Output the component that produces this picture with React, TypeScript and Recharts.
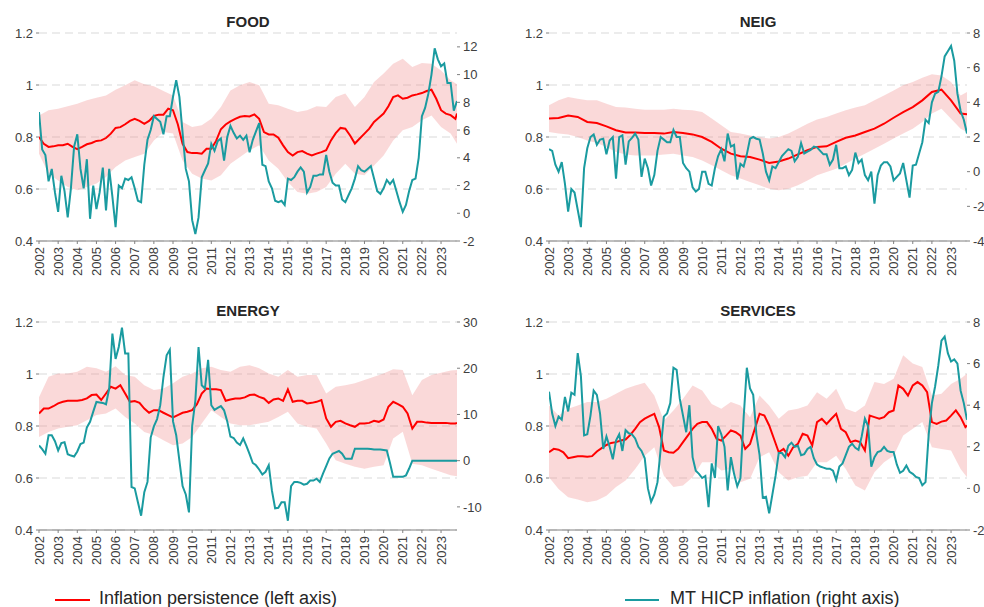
import React from "react";
import { ComposedChart, Line, Area, XAxis, YAxis, CartesianGrid } from "recharts";

const START = 2002;
const END = 2023 + 10 / 12;
const QUARTER = 0.25;
const HALF = 0.5;
const BIMONTH = 1 / 6;

const yearTicks = [
  2002, 2003, 2004, 2005, 2006, 2007, 2008, 2009, 2010, 2011, 2012,
  2013, 2014, 2015, 2016, 2017, 2018, 2019, 2020, 2021, 2022, 2023,
];
const leftTicks = [0.4, 0.6, 0.8, 1, 1.2];

// FOOD
const foodPersistence = [
  0.8, 0.774, 0.762, 0.764, 0.768, 0.768, 0.774, 0.762, 0.753, 0.762, 0.772, 0.777,
  0.785, 0.787, 0.796, 0.813, 0.835, 0.838, 0.849, 0.862, 0.87, 0.862, 0.851, 0.862,
  0.881, 0.886, 0.886, 0.909, 0.903, 0.849, 0.774, 0.742, 0.738, 0.738, 0.736, 0.755,
  0.755, 0.785, 0.83, 0.848, 0.86, 0.87, 0.878, 0.881, 0.879, 0.887, 0.87, 0.819,
  0.81, 0.81, 0.797, 0.768, 0.742, 0.729, 0.742, 0.746, 0.736, 0.729, 0.736, 0.742,
  0.749, 0.787, 0.815, 0.835, 0.832, 0.806, 0.775, 0.794, 0.813, 0.832, 0.858, 0.874,
  0.89, 0.918, 0.954, 0.96, 0.947, 0.951, 0.96, 0.964, 0.969, 0.977, 0.982, 0.947,
  0.903, 0.89, 0.884, 0.87, 0.89,
];
const foodBandLow = [
  0.736, 0.659, 0.633, 0.608, 0.595, 0.608, 0.621, 0.646, 0.685, 0.71, 0.723, 0.736,
  0.787, 0.819, 0.813, 0.71, 0.659, 0.64, 0.633, 0.653, 0.697, 0.723, 0.749, 0.768,
  0.71, 0.678, 0.627, 0.588, 0.582, 0.588, 0.608, 0.659, 0.697, 0.659, 0.653, 0.69,
  0.729, 0.787, 0.826, 0.838, 0.864, 0.883, 0.838, 0.813, 0.774,
];
const foodBandHigh = [
  0.883, 0.903, 0.909, 0.918, 0.928, 0.941, 0.951, 0.96, 0.982, 0.999, 1.018, 1.003,
  0.995, 0.977, 0.96, 0.858, 0.838, 0.845, 0.87, 0.915, 0.979, 0.999, 1.012, 0.999,
  0.928, 0.922, 0.909, 0.896, 0.903, 0.918, 0.915, 0.954, 0.967, 0.915, 0.954, 1.012,
  1.044, 1.082, 1.101, 1.069, 1.085, 1.082, 1.056, 1.018, 1.003,
];
const foodHicp = [
  7.3, 4.6, 4.2, 2.3, 3.2, 1.5, 0.1, 2.7, 1.6, -0.3, 1.8, 4.8,
  5.7, 3.2, 1.8, 3.9, -0.4, 2.0, 0.3, 1.5, 3.3, 0.2, 3.2, 1.2,
  -1.0, 2.0, 1.8, 2.5, 2.4, 2.6, 1.8, 0.9, 0.8, 3.5, 5.3, 6.0,
  7.0, 6.8, 6.6, 5.7, 7.0, 7.0, 8.4, 9.6, 8.4, 5.8, 3.2, 2.3,
  -0.5, -1.5, -0.3, 2.6, 3.1, 3.6, 5.0, 4.5, 5.2, 5.4, 3.8, 5.5,
  6.3, 5.8, 5.4, 5.6, 5.3, 5.6, 4.4, 5.3, 5.9, 6.5, 3.5, 3.4,
  2.3, 1.8, 0.9, 0.8, 0.9, 0.6, 2.5, 2.4, 2.6, 3.0, 3.3, 3.0,
  1.5, 1.9, 2.7, 2.7, 2.8, 2.8, 4.2, 3.0, 2.2, 2.0, 2.0, 1.0,
  0.8, 1.3, 1.8, 2.5, 3.4, 3.1, 3.0, 3.2, 3.4, 2.5, 1.6, 1.4,
  1.8, 2.4, 2.1, 2.4, 1.6, 0.8, 0.1, 0.6, 1.6, 2.4, 2.5, 4.0,
  7.0, 7.6, 8.6, 10.0, 11.9, 11.1, 10.6, 10.8, 9.4, 9.4, 7.4, 8.1,
];
const foodRightTicks = [-2, 0, 2, 4, 6, 8, 10, 12];

// NEIG
const neigPersistence = [
  0.871, 0.873, 0.883, 0.877, 0.858, 0.854, 0.841, 0.826, 0.817, 0.817, 0.815, 0.815,
  0.813, 0.819, 0.815, 0.81, 0.8, 0.781, 0.755, 0.736, 0.726, 0.723, 0.713, 0.7,
  0.706, 0.717, 0.733, 0.749, 0.762, 0.764, 0.781, 0.797, 0.806, 0.819, 0.832, 0.851,
  0.874, 0.896, 0.915, 0.941, 0.973, 0.982, 0.941, 0.89, 0.887,
];
const neigBandLow = [
  0.819, 0.813, 0.81, 0.8, 0.787, 0.777, 0.762, 0.742, 0.733, 0.729, 0.729, 0.729,
  0.733, 0.736, 0.729, 0.723, 0.71, 0.691, 0.672, 0.653, 0.64, 0.627, 0.614, 0.601,
  0.595, 0.601, 0.614, 0.633, 0.653, 0.665, 0.678, 0.697, 0.717, 0.736, 0.755, 0.774,
  0.794, 0.813, 0.832, 0.858, 0.89, 0.909, 0.87, 0.832, 0.819,
];
const neigBandHigh = [
  0.922, 0.941, 0.954, 0.947, 0.941, 0.941, 0.928, 0.915, 0.913, 0.909, 0.905, 0.905,
  0.905, 0.909, 0.905, 0.903, 0.896, 0.871, 0.845, 0.819, 0.813, 0.806, 0.8, 0.794,
  0.8, 0.813, 0.832, 0.851, 0.867, 0.877, 0.89, 0.903, 0.913, 0.922, 0.941, 0.96,
  0.979, 0.999, 1.012, 1.028, 1.041, 1.037, 1.012, 0.96, 0.973,
];
const neigHicp = [
  1.3, 1.2, 0.4, 0.0, 0.55, -0.7, -2.3, -1.0, -1.2, -2.2, -3.2, 0.2,
  1.35, 2.0, 2.15, 1.55, 1.85, 1.9, 1.0, 1.8, 2.0, -0.4, 2.0, 2.1,
  0.4, 1.75, 1.95, 2.2, 1.85, -0.3, 0.75, 0.2, -0.8, -0.2, 1.2, 2.0,
  1.85, 1.7, 1.7, 2.4, 2.0, 2.0, 0.5, 0.2, 0.0, -0.9, -1.15, -1.0,
  0.0, 0.0, -0.7, -0.8, 0.2, 0.9, 1.3, 0.6, 2.2, 1.45, 1.55, -0.45,
  0.45, 0.3, 1.0, 1.9, 2.0, 1.9, 1.85, 1.05, 0.0, -0.5, 0.3, 0.2,
  0.55, 0.9, 1.1, 1.3, 1.2, 0.6, 0.85, 1.65, 1.05, 1.15, 1.25, 1.45,
  1.4, 1.2, 1.0, 1.0, 0.4, 0.7, 1.55, 0.2, 0.2, 0.3, -0.2, 0.1,
  1.1, 0.5, 0.7, -0.2, -0.5, 0.0, -1.85, -0.2, 0.35, 0.55, 0.55, 0.3,
  -0.5, -0.3, -0.1, 0.5, -0.5, -1.5, 0.35, 0.4, 1.05, 1.7, 3.0, 2.8,
  4.0, 4.5, 4.6, 5.5, 6.65, 6.95, 7.25, 6.4, 4.5, 3.5, 3.0, 2.2,
];
const neigRightTicks = [-4, -2, 0, 2, 4, 6, 8];

// ENERGY
const energyPersistence = [
  0.848, 0.867, 0.867, 0.876, 0.887, 0.893, 0.897, 0.897, 0.897, 0.9, 0.906, 0.919,
  0.921, 0.9, 0.925, 0.951, 0.944, 0.957, 0.925, 0.893, 0.896, 0.889, 0.867, 0.851,
  0.861, 0.861, 0.851, 0.842, 0.833, 0.842, 0.851, 0.855, 0.861, 0.884, 0.925, 0.944,
  0.941, 0.941, 0.938, 0.897, 0.902, 0.906, 0.906, 0.91, 0.919, 0.921, 0.912, 0.906,
  0.889, 0.902, 0.906, 0.897, 0.941, 0.893, 0.897, 0.897, 0.887, 0.889, 0.893, 0.9,
  0.829, 0.797, 0.816, 0.82, 0.81, 0.803, 0.797, 0.81, 0.81, 0.812, 0.82, 0.816,
  0.825, 0.874, 0.893, 0.884, 0.874, 0.848, 0.79, 0.816, 0.816, 0.813, 0.812, 0.812,
  0.812, 0.812, 0.81, 0.81, 0.812,
];
const energyBandLow = [
  0.758, 0.777, 0.79, 0.797, 0.803, 0.822, 0.842, 0.848, 0.867, 0.835, 0.81, 0.777,
  0.765, 0.745, 0.726, 0.733, 0.758, 0.81, 0.861, 0.835, 0.81, 0.803, 0.803, 0.81,
  0.816, 0.835, 0.855, 0.81, 0.797, 0.79, 0.733, 0.668, 0.655, 0.643, 0.636, 0.643,
  0.649, 0.752, 0.778, 0.655, 0.649, 0.636, 0.623, 0.611, 0.607,
];
const energyBandHigh = [
  0.911, 0.989, 1.002, 1.002, 1.009, 1.028, 1.022, 1.009, 1.03, 0.996, 0.989, 0.957,
  0.938, 0.944, 0.964, 0.989, 1.002, 1.022, 1.028, 1.015, 1.009, 1.028, 1.034, 1.022,
  1.002, 0.989, 1.015, 0.989, 0.996, 0.996, 0.925, 0.951, 0.957, 0.964, 0.977, 0.989,
  1.002, 1.018, 1.015, 0.918, 0.977, 0.996, 1.005, 1.013, 1.015,
];
const energyHicp = [
  3.3, 2.5, 1.5, 5.5, 5.5, 4.2, 2.2, 3.8, 4.0, 1.4, 1.1, 0.9,
  2.0, 3.6, 3.9, 7.2, 8.4, 10.6, 12.7, 12.6, 12.5, 12.2, 15.6, 27.5,
  22.0, 24.6, 28.8, 23.2, 23.2, -5.7, -6.0, -9.0, -11.9, -6.8, -4.6, 5.0,
  7.4, 9.0, 12.0, 18.1, 22.8, 24.0, 8.5, 5.5, 0.0, -5.5, -7.3, -11.2,
  7.5, 13.0, 24.6, 16.3, 15.6, 21.8, 12.0, 11.0, 11.4, 11.8, 10.9, 8.5,
  5.2, 4.9, 3.9, 3.4, 4.8, 3.2, 1.4, -0.5, -1.0, -1.9, -3.0, -2.4,
  -1.0, -6.5, -10.3, -10.2, -9.0, -9.0, -13.0, -5.5, -4.6, -4.6, -4.8, -5.2,
  -5.0, -4.3, -4.3, -3.9, -4.6, -2.8, -1.2, 0.5, 1.5, 1.8, 2.1, 1.5,
  0.4, 0.4, 0.4, 2.6, 2.6, 2.6, 2.6, 2.6, 2.5, 2.4, 2.4, 2.4,
  2.3, 2.2, -0.5, -3.5, -3.5, -3.5, -3.5, -3.2, -1.7, 0.0, 0.0, 0.0,
  0.0, 0.0, 0.0, 0.0, 0.0, 0.0, 0.0, 0.0, 0.0, 0.0, 0.0, 0.0,
];
const energyRightTicks = [-10, 0, 10, 20, 30];

// SERVICES
const servicesPersistence = [
  0.699, 0.712, 0.709, 0.699, 0.676, 0.68, 0.684, 0.684, 0.682, 0.684, 0.702, 0.715,
  0.727, 0.735, 0.738, 0.744, 0.748, 0.766, 0.789, 0.815, 0.828, 0.838, 0.847, 0.796,
  0.706, 0.699, 0.697, 0.712, 0.738, 0.763, 0.789, 0.808, 0.815, 0.815, 0.789, 0.751,
  0.744, 0.763, 0.783, 0.776, 0.763, 0.712, 0.731, 0.789, 0.847, 0.84, 0.802, 0.751,
  0.699, 0.712, 0.686, 0.718, 0.731, 0.77, 0.763, 0.725, 0.815, 0.828, 0.808, 0.828,
  0.847, 0.789, 0.776, 0.738, 0.744, 0.738, 0.706, 0.84, 0.834, 0.828, 0.834, 0.853,
  0.86, 0.956, 0.943, 0.917, 0.956, 0.969, 0.956, 0.93, 0.815, 0.808, 0.817, 0.821,
  0.84, 0.86, 0.834, 0.796, 0.802,
];
const servicesBandLow = [
  0.603, 0.558, 0.526, 0.517, 0.507, 0.513, 0.532, 0.565, 0.59, 0.635, 0.686, 0.718,
  0.609, 0.565, 0.571, 0.603, 0.661, 0.661, 0.629, 0.635, 0.584, 0.597, 0.68, 0.699,
  0.622, 0.59, 0.603, 0.609, 0.661, 0.661, 0.686, 0.635, 0.571, 0.552, 0.622, 0.661,
  0.686, 0.763, 0.789, 0.815, 0.718, 0.712, 0.706, 0.635, 0.603,
];
const servicesBandHigh = [
  0.879, 0.84, 0.866, 0.879, 0.892, 0.892, 0.905, 0.924, 0.943, 0.956, 0.966, 0.917,
  0.821, 0.86, 0.905, 0.956, 0.937, 0.885, 0.866, 0.892, 0.879, 0.834, 0.917, 0.879,
  0.828, 0.86, 0.866, 0.879, 0.93, 0.905, 0.943, 0.866, 0.853, 0.879, 0.969, 0.962,
  0.982, 1.072, 1.04, 1.027, 0.917, 0.924, 0.962, 0.982, 1.001,
];
const servicesHicp = [
  4.65, 3.6, 3.0, 3.45, 3.3, 4.4, 3.7, 4.6, 4.5, 6.5, 5.4, 2.55,
  2.6, 3.5, 4.7, 4.5, 3.6, 1.9, 2.5, 2.0, 1.4, 2.3, 2.6, 1.8,
  2.8, 2.65, 2.6, 2.4, 2.0, 1.8, 1.45, 0.0, -0.65, -0.3, 0.3, 1.9,
  3.45, 3.6, 4.1, 5.8, 5.7, 4.3, 3.5, 2.7, 4.0, 1.5, 0.85, 0.7,
  0.5, 0.6, -0.9, 1.2, 0.5, 3.0, 2.6, 2.0, -0.1, 1.5, 0.7, 0.1,
  0.5, 3.4, 5.8, 4.8, 4.5, 2.6, 1.6, -0.45, -0.4, -1.2, -0.3, 0.6,
  1.7, 1.7, 1.5, 2.05, 2.2, 2.0, 2.05, 1.6, 1.65, 1.9, 2.0, 1.45,
  1.15, 1.05, 1.0, 0.95, 0.95, 0.85, 0.4, 1.05, 1.2, 1.6, 2.0, 2.15,
  1.95, 1.85, 2.5, 3.35, 3.0, 1.05, 1.5, 1.75, 1.8, 2.0, 1.8, 1.75,
  1.75, 1.15, 0.75, 0.85, 1.1, 0.8, 0.7, 0.55, 0.5, 0.15, 0.3, 2.6,
  4.1, 4.9, 5.9, 7.1, 7.3, 6.5, 6.1, 6.2, 6.0, 4.7, 4.1, 3.3,
];
const servicesRightTicks = [-2, 0, 2, 4, 6, 8];

const RED = "#ff0000";
const TEAL = "#1a9ba0";
const TEXT = "#404040";
const AXIS = "#808080";
const PANEL_W = 492;
const PANEL_H = 290;

const toPoints = (vals: number[], step: number) =>
  vals.map((v, i) => ({ t: Math.min(START + i * step, END), v }));

const toBand = (low: number[], high: number[], step: number) =>
  low.map((l, i) => ({ t: Math.min(START + i * step, END), band: [l, high[i]] }));

// vertical year labels, centred on the tick
const YearTick = (props: any) => {
  const { x, y, payload } = props;
  return (
    <text
      x={x}
      y={y}
      transform={`rotate(-90, ${x}, ${y})`}
      textAnchor="end"
      dominantBaseline="central"
      fontSize={13}
      fill={TEXT}
    >
      {payload.value}
    </text>
  );
};

type PanelProps = {
  title: string;
  left: number;
  top: number;
  leftW: number;
  rightW: number;
  persistence: number[];
  persistenceStep: number;
  bandLow: number[];
  bandHigh: number[];
  hicp: number[];
  rightDomain: [number, number];
  rightTicks: number[];
};

function Panel(p: PanelProps) {
  const red = toPoints(p.persistence, p.persistenceStep);
  const teal = toPoints(p.hicp, BIMONTH);
  const band = toBand(p.bandLow, p.bandHigh, HALF);
  const tickStyle = { fontSize: 13, fill: TEXT };

  return (
    <div style={{ position: "absolute", left: p.left, top: p.top, width: PANEL_W, height: PANEL_H }}>
      <div
        style={{
          position: "absolute",
          left: p.leftW,
          width: PANEL_W - p.leftW - p.rightW,
          top: 13,
          textAlign: "center",
          fontWeight: 700,
          fontSize: 15,
          lineHeight: "18px",
          color: "#262626",
        }}
      >
        {p.title}
      </div>
      <ComposedChart width={PANEL_W} height={PANEL_H} margin={{ top: 33, right: 0, bottom: 9, left: 0 }}>
        <CartesianGrid yAxisId="l" vertical={false} stroke="#d9d9d9" strokeDasharray="8 5" />
        <XAxis
          type="number"
          dataKey="t"
          domain={[START, END]}
          ticks={yearTicks}
          interval={0}
          allowDataOverflow
          height={40}
          tickSize={3}
          tickMargin={3}
          axisLine={{ stroke: AXIS }}
          tickLine={{ stroke: AXIS }}
          tick={YearTick}
        />
        <YAxis
          yAxisId="l"
          domain={[0.4, 1.2]}
          ticks={leftTicks}
          interval={0}
          width={p.leftW}
          axisLine={false}
          tickSize={3}
          tickMargin={3}
          tickLine={{ stroke: AXIS }}
          tick={tickStyle}
        />
        <YAxis
          yAxisId="r"
          orientation="right"
          domain={p.rightDomain}
          ticks={p.rightTicks}
          interval={0}
          width={p.rightW}
          axisLine={false}
          tickSize={3}
          tickMargin={3}
          tickLine={{ stroke: AXIS }}
          tick={tickStyle}
        />
        <Area
          yAxisId="l"
          data={band}
          dataKey="band"
          stroke="none"
          fill="#f08080"
          fillOpacity={0.3}
          isAnimationActive={false}
        />
        <Line yAxisId="l" data={red} dataKey="v" stroke={RED} strokeWidth={2} dot={false} isAnimationActive={false} />
        <Line yAxisId="r" data={teal} dataKey="v" stroke={TEAL} strokeWidth={2} dot={false} isAnimationActive={false} />
      </ComposedChart>
    </div>
  );
}

export default function App() {
  return (
    <div
      style={{
        position: "absolute",
        left: 0,
        top: 0,
        width: 984,
        height: 607,
        overflow: "hidden",
        background: "#fff",
        fontFamily: "'Liberation Sans', Arial, sans-serif",
      }}
    >
      <Panel
        title="FOOD"
        left={0}
        top={0}
        leftW={39}
        rightW={35}
        persistence={foodPersistence}
        persistenceStep={QUARTER}
        bandLow={foodBandLow}
        bandHigh={foodBandHigh}
        hicp={foodHicp}
        rightDomain={[-2, 13]}
        rightTicks={foodRightTicks}
      />
      <Panel
        title="NEIG"
        left={492}
        top={0}
        leftW={57}
        rightW={17}
        persistence={neigPersistence}
        persistenceStep={HALF}
        bandLow={neigBandLow}
        bandHigh={neigBandHigh}
        hicp={neigHicp}
        rightDomain={[-4, 8]}
        rightTicks={neigRightTicks}
      />
      <Panel
        title="ENERGY"
        left={0}
        top={289}
        leftW={39}
        rightW={35}
        persistence={energyPersistence}
        persistenceStep={QUARTER}
        bandLow={energyBandLow}
        bandHigh={energyBandHigh}
        hicp={energyHicp}
        rightDomain={[-15, 30]}
        rightTicks={energyRightTicks}
      />
      <Panel
        title="SERVICES"
        left={492}
        top={289}
        leftW={57}
        rightW={17}
        persistence={servicesPersistence}
        persistenceStep={QUARTER}
        bandLow={servicesBandLow}
        bandHigh={servicesBandHigh}
        hicp={servicesHicp}
        rightDomain={[-2, 8]}
        rightTicks={servicesRightTicks}
      />

      {/* legend */}
      <div style={{ position: "absolute", left: 55, top: 599, width: 35, height: 2, background: RED }} />
      <div style={{ position: "absolute", left: 99, top: 588, fontSize: 18, lineHeight: "20px", color: "#262626", whiteSpace: "nowrap" }}>
        Inflation persistence (left axis)
      </div>
      <div style={{ position: "absolute", left: 625, top: 599, width: 34, height: 2, background: TEAL }} />
      <div style={{ position: "absolute", left: 670, top: 588, fontSize: 18, lineHeight: "20px", color: "#262626", whiteSpace: "nowrap" }}>
        MT HICP inflation (right axis)
      </div>
    </div>
  );
}
